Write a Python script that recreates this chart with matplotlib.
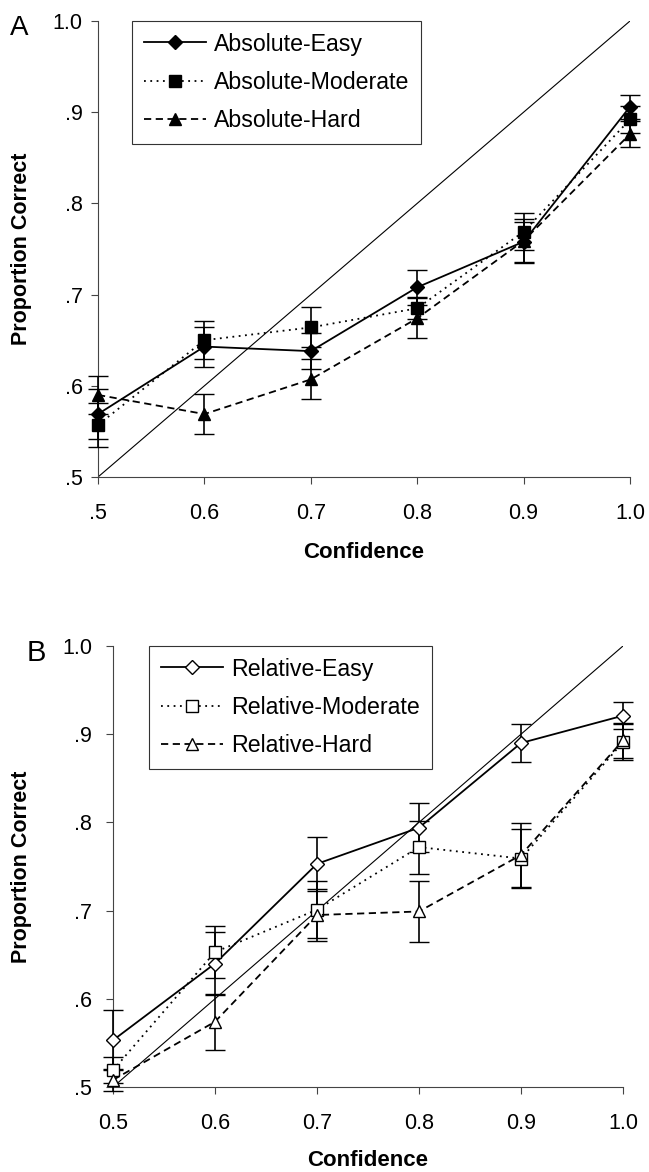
import matplotlib
matplotlib.use('Agg')
import matplotlib.pyplot as plt

plt.rcParams['font.family'] = ['Liberation Sans', 'DejaVu Sans']

conf = [0.5, 0.6, 0.7, 0.8, 0.9, 1.0]
diag = [0.5, 1.0]

# panel A - absolute
abs_easy = [0.569, 0.643, 0.638, 0.708, 0.758, 0.906]
abs_easy_err = [0.027, 0.022, 0.020, 0.019, 0.022, 0.013]
abs_mod = [0.557, 0.650, 0.664, 0.685, 0.769, 0.892]
abs_mod_err = [0.024, 0.021, 0.022, 0.012, 0.020, 0.015]
abs_hard = [0.590, 0.569, 0.607, 0.674, 0.759, 0.876]
abs_hard_err = [0.021, 0.022, 0.022, 0.022, 0.024, 0.014]

# panel B - relative
rel_easy = [0.553, 0.640, 0.753, 0.794, 0.890, 0.921]
rel_easy_err = [0.034, 0.036, 0.031, 0.028, 0.021, 0.015]
rel_mod = [0.519, 0.653, 0.701, 0.772, 0.759, 0.891]
rel_mod_err = [0.015, 0.029, 0.032, 0.030, 0.033, 0.020]
rel_hard = [0.508, 0.574, 0.695, 0.699, 0.763, 0.893]
rel_hard_err = [0.012, 0.032, 0.030, 0.035, 0.036, 0.020]

yticks = [0.5, 0.6, 0.7, 0.8, 0.9, 1.0]
ytick_labels = ['.5', '.6', '.7', '.8', '.9', '1.0']
xtick_labels_a = ['.5', '0.6', '0.7', '0.8', '0.9', '1.0']
xtick_labels_b = ['0.5', '0.6', '0.7', '0.8', '0.9', '1.0']

W, H = 649, 1172
fig = plt.figure(figsize=(W / 100, H / 100), dpi=100)


def px_axes(left, top, right, bottom):
    return fig.add_axes([left / W, 1 - bottom / H, (right - left) / W, (bottom - top) / H])


axA = px_axes(98, 21, 630, 477)
axB = px_axes(113, 646, 623, 1087)

styles = [('-', 'D', 7), ((0, (1, 2.5)), 's', 8), ((0, (4, 2.5)), '^', 9)]


def draw(ax, series, errs, names, filled, xlabels, ypad, legend_x):
    ax.plot(diag, diag, color='black', lw=0.8, zorder=1)
    handles = []
    for (ls, mk, ms), y, e, name in zip(styles, series, errs, names):
        cont = ax.errorbar(conf, y, yerr=e, color='black', ls=ls, lw=1.3,
                           marker=mk, ms=ms, mfc='black' if filled else 'white',
                           mec='black', mew=1.0, ecolor='black', elinewidth=1.2,
                           capsize=7, capthick=1.2, clip_on=False, zorder=3)
        handles.append(cont[0])
    ax.set_xlim(0.5, 1.0)
    ax.set_ylim(0.5, 1.0)
    for s in ['top', 'right']:
        ax.spines[s].set_visible(False)
    for s in ['left', 'bottom']:
        ax.spines[s].set_color('#444444')
        ax.spines[s].set_linewidth(0.8)
    ax.set_xticks(conf)
    ax.set_xticklabels(xlabels)
    ax.set_yticks(yticks)
    ax.set_yticklabels(ytick_labels)
    ax.tick_params(axis='both', direction='out', length=5, width=0.8,
                   color='#444444', labelsize=15.5)
    ax.tick_params(axis='x', pad=14)
    ax.tick_params(axis='y', pad=ypad)
    ax.set_xlabel('Confidence', fontsize=16, fontweight='bold')
    ax.set_ylabel('Proportion Correct', fontsize=15.5, fontweight='bold')
    leg = ax.legend(handles, names, loc='upper left', bbox_to_anchor=(legend_x, 1.0),
                    borderaxespad=0, fontsize=16.7, numpoints=1,
                    handlelength=2.7, handletextpad=0.35, labelspacing=0.66,
                    borderpad=0.5, fancybox=False, framealpha=1,
                    edgecolor='#333333')
    leg.get_frame().set_linewidth(0.8)
    leg.set_zorder(5)
    return ax


draw(axA, [abs_easy, abs_mod, abs_hard], [abs_easy_err, abs_mod_err, abs_hard_err],
     ['Absolute-Easy', 'Absolute-Moderate', 'Absolute-Hard'], True,
     xtick_labels_a, 6, 0.064)
draw(axB, [rel_easy, rel_mod, rel_hard], [rel_easy_err, rel_mod_err, rel_hard_err],
     ['Relative-Easy', 'Relative-Moderate', 'Relative-Hard'], False,
     xtick_labels_b, 10, 0.071)

axA.xaxis.set_label_coords(0.5, -0.1425)
axB.xaxis.set_label_coords(0.5, -0.143)
axA.yaxis.set_label_coords(-0.124, 0.5)
axB.yaxis.set_label_coords(-0.159, 0.5)

fig.text(10 / W, 1 - 35 / H, 'A', fontsize=20, va='baseline', ha='left')
fig.text(27 / W, 1 - 661 / H, 'B', fontsize=21, va='baseline', ha='left')

fig.savefig('out.png', dpi=100)
